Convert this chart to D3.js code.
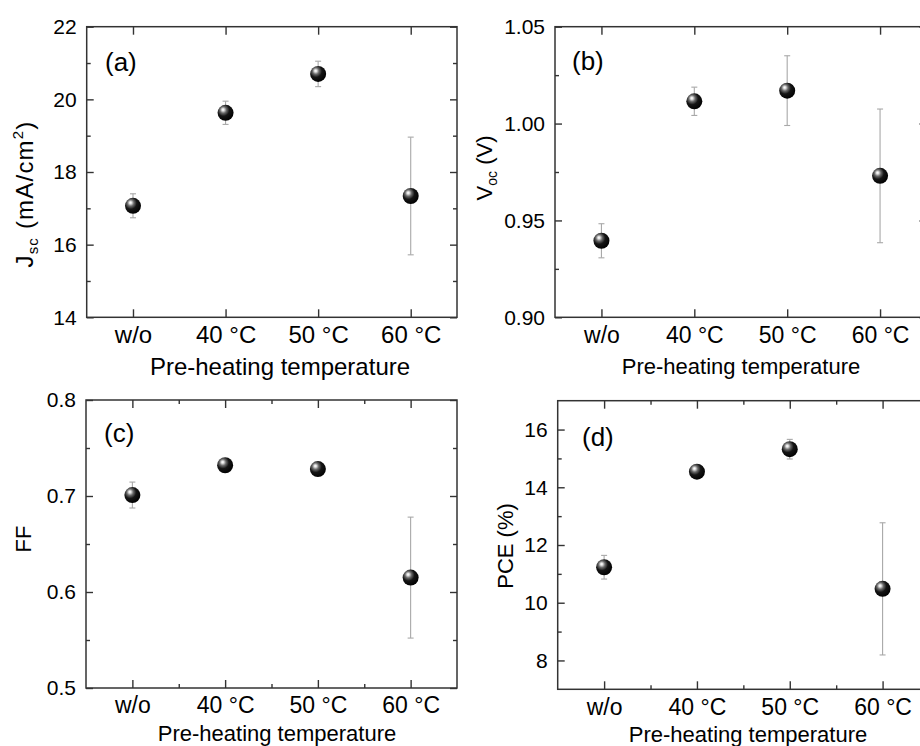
<!DOCTYPE html>
<html>
<head>
<meta charset="utf-8">
<script src="https://cdn.jsdelivr.net/npm/d3@7/dist/d3.min.js"></script>
<style>
  html, body { margin: 0; padding: 0; background: #fff; }
  svg { display: block; font-family: "Liberation Sans", Arial, sans-serif; }
</style>
</head>
<body>
<svg id="chart" width="920" height="746"></svg>
<script>
// Categories on the x axis
const categories = ["w/o", "40 °C", "50 °C", "60 °C"];

// Short-circuit current density (mA/cm2): mean and deviation
const jscMean = [17.07, 19.63, 20.70, 17.34];
const jscErr  = [0.33, 0.32, 0.35, 1.62];

// Open-circuit voltage (V)
const vocMean = [0.9395, 1.0115, 1.017, 0.973];
const vocErr  = [0.0088, 0.0073, 0.018, 0.0345];

// Fill factor
const ffMean = [0.701, 0.732, 0.728, 0.615];
const ffErr  = [0.0135, 0.004, 0.004, 0.063];

// Power conversion efficiency (%)
const pceMean = [11.23, 14.54, 15.32, 10.48];
const pceErr  = [0.41, 0.15, 0.34, 2.29];

// Tick values
const jscTicks = [14, 16, 18, 20, 22];
const jscMinor = [15, 17, 19, 21];
const vocTicks = [0.90, 0.95, 1.00, 1.05];
const vocMinor = [0.925, 0.975, 1.025];
const ffTicks  = [0.5, 0.6, 0.7, 0.8];
const ffMinor  = [0.55, 0.65, 0.75];
const pceTicks = [8, 10, 12, 14, 16];
const pceMinor = [9, 11, 13, 15];

const svg = d3.select("#chart");
const AXIS_COLOR = "#333";
const FAMILY = "Liberation Sans, Arial, sans-serif";

// glossy black sphere marker
const defs = svg.append("defs");
const grad = defs.append("radialGradient").attr("id", "ball")
  .attr("cx", "38%").attr("cy", "36%").attr("r", "68%")
  .attr("fx", "34%").attr("fy", "30%");
[["0%", "#ffffff"], ["10%", "#e6e6e6"], ["30%", "#6a6a6a"], ["55%", "#151515"], ["100%", "#000000"]]
  .forEach(([o, c]) => grad.append("stop").attr("offset", o).attr("stop-color", c));

const panels = [
  { label: "(a)", mean: jscMean, err: jscErr, domain: [14, 22], ticks: jscTicks, minor: jscMinor,
    fmt: d3.format("d"), box: { l: 86.7, t: 26.7, r: 457, b: 317.3 }, xMinor: false,
    xFont: 24, titleFont: 24, titleOff: 58, titleCx: 280,
    title: "jsc", titleX: 33, titleY: 194, labelPos: [105, 71] },
  { label: "(b)", mean: vocMean, err: vocErr, domain: [0.90, 1.05], ticks: vocTicks, minor: vocMinor,
    fmt: d3.format(".2f"), box: { l: 555, t: 26.7, r: 926.5, b: 317.3 }, xMinor: false,
    xFont: 23, titleFont: 22, titleOff: 57, titleCx: 741,
    title: "voc", titleX: 492, titleY: 168, labelPos: [572, 70] },
  { label: "(c)", mean: ffMean, err: ffErr, domain: [0.5, 0.8], ticks: ffTicks, minor: ffMinor,
    fmt: d3.format(".1f"), box: { l: 86, t: 400, r: 457, b: 688 }, xMinor: true,
    xFont: 23, titleFont: 22, titleOff: 53, titleCx: 277,
    title: "ff", titleX: 31, titleY: 539, labelPos: [104, 442] },
  { label: "(d)", mean: pceMean, err: pceErr, domain: [7, 17], ticks: pceTicks, minor: pceMinor,
    fmt: d3.format("d"), box: { l: 557.7, t: 400.7, r: 929, b: 689.3 }, xMinor: true,
    xFont: 23, titleFont: 22, titleOff: 53, titleCx: 748,
    title: "pce", titleX: 513, titleY: 546, labelPos: [582, 446] }
];

function yTitle(g, kind) {
  const t = g.append("text").attr("text-anchor", "middle").attr("font-size", 22).attr("fill", "#000");
  if (kind === "jsc") {
    t.attr("font-size", 24).attr("letter-spacing", 1.2);
    t.append("tspan").text("J");
    t.append("tspan").attr("font-size", 15).attr("dy", 5).text("sc");
    t.append("tspan").attr("dy", -5).text(" (mA/cm");
    t.append("tspan").attr("font-size", 15).attr("dy", -10).text("2");
    t.append("tspan").attr("dy", 10).text(")");
  } else if (kind === "voc") {
    t.append("tspan").text("V");
    t.append("tspan").attr("font-size", 14).attr("dy", 5).text("oc");
    t.append("tspan").attr("dy", -5).text(" (V)");
  } else if (kind === "ff") {
    t.text("FF");
  } else {
    t.text("PCE (%)");
  }
  return t;
}

panels.forEach(p => {
  const { l, t, r, b } = p.box;
  const g = svg.append("g");

  const x = d3.scalePoint().domain(categories).range([l, r]).padding(0.5);
  const y = d3.scaleLinear().domain(p.domain).range([b, t]);

  // x positions of the minor ticks between categories
  const step = x.step();
  const xMinorPos = categories.slice(0, -1).map(c => x(c) + step / 2);
  const xm = d3.scaleIdentity();

  // bottom axis with labels
  const bottom = g.append("g").attr("transform", `translate(0,${b})`)
    .call(d3.axisBottom(x).tickSize(-8).tickPadding(9));
  bottom.selectAll("text").attr("font-size", p.xFont).attr("fill", "#000").attr("font-family", FAMILY);

  // top axis
  g.append("g").attr("transform", `translate(0,${t})`)
    .call(d3.axisTop(x).tickSize(-8).tickFormat(""));

  if (p.xMinor) {
    g.append("g").attr("transform", `translate(0,${b})`)
      .call(d3.axisBottom(xm).tickValues(xMinorPos).tickSize(-4).tickFormat(""));
    g.append("g").attr("transform", `translate(0,${t})`)
      .call(d3.axisTop(xm).tickValues(xMinorPos).tickSize(-4).tickFormat(""));
  }

  // left axis with labels
  const left = g.append("g").attr("transform", `translate(${l},0)`)
    .call(d3.axisLeft(y).tickValues(p.ticks).tickFormat(p.fmt).tickSize(-7).tickPadding(10));
  left.selectAll("text").attr("font-size", 21).attr("fill", "#000").attr("font-family", FAMILY);
  g.append("g").attr("transform", `translate(${l},0)`)
    .call(d3.axisLeft(y).tickValues(p.minor).tickSize(-4).tickFormat(""));

  // right axis
  g.append("g").attr("transform", `translate(${r},0)`)
    .call(d3.axisRight(y).tickValues(p.ticks).tickSize(-7).tickFormat(""));
  g.append("g").attr("transform", `translate(${r},0)`)
    .call(d3.axisRight(y).tickValues(p.minor).tickSize(-4).tickFormat(""));

  g.selectAll(".domain").remove();
  g.selectAll(".tick line").attr("stroke", AXIS_COLOR).attr("stroke-width", 1.4);

  // frame
  g.append("rect").attr("x", l).attr("y", t).attr("width", r - l).attr("height", b - t)
    .attr("fill", "none").attr("stroke", AXIS_COLOR).attr("stroke-width", 1.5);

  // x axis title
  g.append("text").attr("x", p.titleCx).attr("y", b + p.titleOff)
    .attr("text-anchor", "middle").attr("font-size", p.titleFont).attr("fill", "#000")
    .text("Pre-heating temperature");

  // y axis title
  yTitle(g, p.title).attr("transform", `translate(${p.titleX},${p.titleY}) rotate(-90)`);

  // panel letter
  g.append("text").attr("x", p.labelPos[0]).attr("y", p.labelPos[1])
    .attr("font-size", 26).attr("fill", "#000").text(p.label);

  // error bars
  const rows = categories.map((c, i) => ({ c, m: p.mean[i], e: p.err[i] }));
  const eb = g.append("g").attr("stroke", "#a8a8a8").attr("stroke-width", 1.1).attr("fill", "none");
  rows.forEach(d => {
    const cx = x(d.c);
    eb.append("line").attr("x1", cx).attr("x2", cx).attr("y1", y(d.m - d.e)).attr("y2", y(d.m + d.e));
    eb.append("line").attr("x1", cx - 3).attr("x2", cx + 3).attr("y1", y(d.m + d.e)).attr("y2", y(d.m + d.e));
    eb.append("line").attr("x1", cx - 3).attr("x2", cx + 3).attr("y1", y(d.m - d.e)).attr("y2", y(d.m - d.e));
  });

  // markers
  g.append("g").selectAll("circle").data(rows).join("circle")
    .attr("cx", d => x(d.c)).attr("cy", d => y(d.m)).attr("r", 8)
    .attr("fill", "url(#ball)");
});
</script>
</body>
</html>
